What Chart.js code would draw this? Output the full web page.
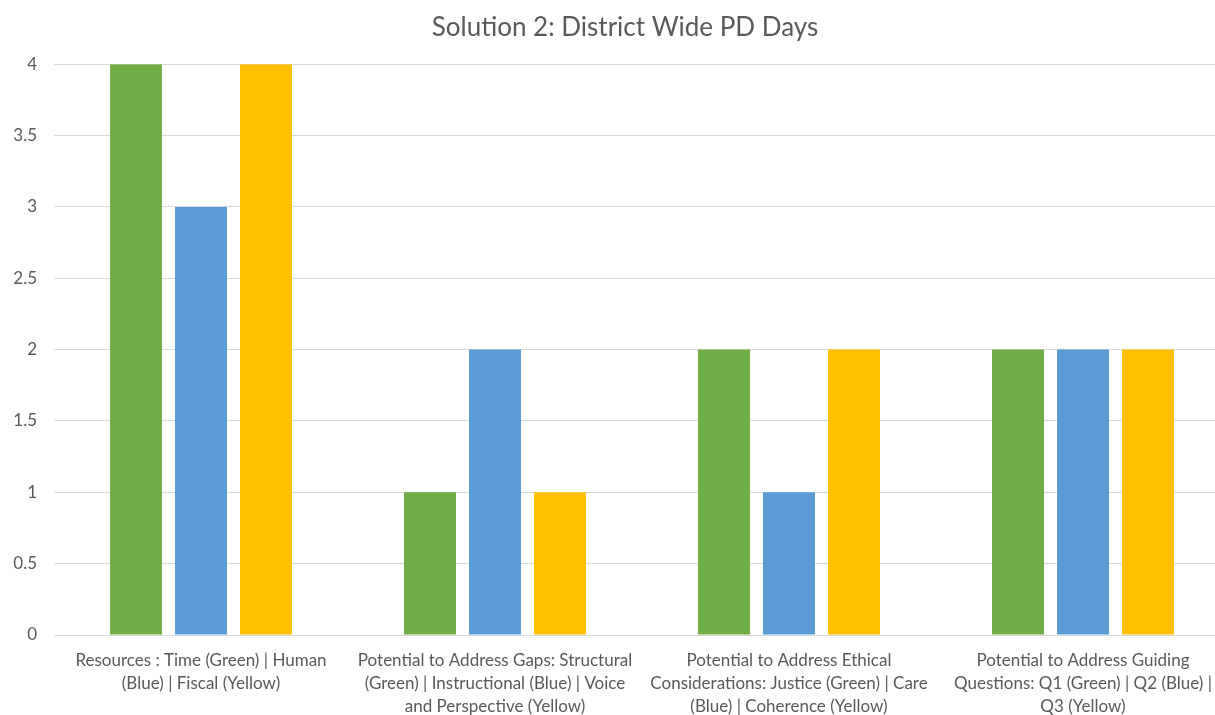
<!DOCTYPE html>
<html>
<head>
<meta charset="utf-8">
<script src="https://cdn.jsdelivr.net/npm/chart.js@4.4.0/dist/chart.umd.min.js"></script>
<style>
  html, body { margin: 0; padding: 0; background: #ffffff; overflow: hidden; }
  #wrap { width: 1250px; height: 715px; }
</style>
</head>
<body>
<div id="wrap"><canvas id="myChart" width="1250" height="715"></canvas></div>
<script>
const categorias = [
    ['Resources : Time (Green) | Human', '(Blue) | Fiscal (Yellow)'],
    ['Potential to Address Gaps: Structural', '(Green) | Instructional (Blue) | Voice', 'and Perspective (Yellow)'],
    ['Potential to Address Ethical', 'Considerations: Justice (Green) | Care', '(Blue) | Coherence (Yellow)'],
    ['Potential to Address Guiding', 'Questions: Q1 (Green) | Q2 (Blue) |', 'Q3 (Yellow)']
];
const serieVerde = [4, 1, 2, 2];
const serieAzul = [3, 2, 1, 2];
const serieAmarilla = [4, 1, 2, 2];

const fuente = 'Lato, "Open Sans", sans-serif';

const ctx = document.getElementById('myChart').getContext('2d');

const myChart = new Chart(ctx, {
    type: 'bar',
    data: {
        labels: categorias,
        datasets: [
            { label: 'Green', data: serieVerde, backgroundColor: '#70AD47' },
            { label: 'Blue', data: serieAzul, backgroundColor: '#5B9BD5' },
            { label: 'Yellow', data: serieAmarilla, backgroundColor: '#FFC000' }
        ]
    },
    options: {
        responsive: false,
        animation: false,
        categoryPercentage: 0.663,
        barPercentage: 0.8,
        layout: { padding: { top: 12, right: 0, left: 0, bottom: 0 } },
        plugins: {
            legend: { display: false },
            tooltip: { enabled: false },
            title: {
                display: true,
                text: 'Solution 2: District Wide PD Days',
                color: '#595959',
                font: { family: fuente, size: 26, weight: 'normal' },
                padding: { top: 0, bottom: 21 }
            }
        },
        scales: {
            x: {
                grid: { display: false },
                border: { color: '#d9d9d9' },
                ticks: {
                    color: '#595959',
                    maxRotation: 0,
                    autoSkip: false,
                    padding: 6,
                    font: { family: fuente, size: 17, lineHeight: 1.35 }
                },
                afterFit: (scale) => { scale.height = 80; }
            },
            y: {
                min: 0,
                max: 4,
                ticks: {
                    stepSize: 0.5,
                    color: '#595959',
                    padding: 17,
                    font: { family: fuente, size: 17 },
                    callback: (valor) => String(valor)
                },
                grid: { color: '#d9d9d9', drawTicks: false },
                border: { display: false },
                afterFit: (scale) => { scale.width = 54; }
            },
            // eje vacio a la derecha, solo para reservar margen
            yDerecha: {
                position: 'right',
                min: 0,
                max: 4,
                ticks: { display: false },
                grid: { drawOnChartArea: false, drawTicks: false },
                border: { display: false },
                afterFit: (scale) => { scale.width = 20; }
            }
        }
    }
});
</script>
</body>
</html>
